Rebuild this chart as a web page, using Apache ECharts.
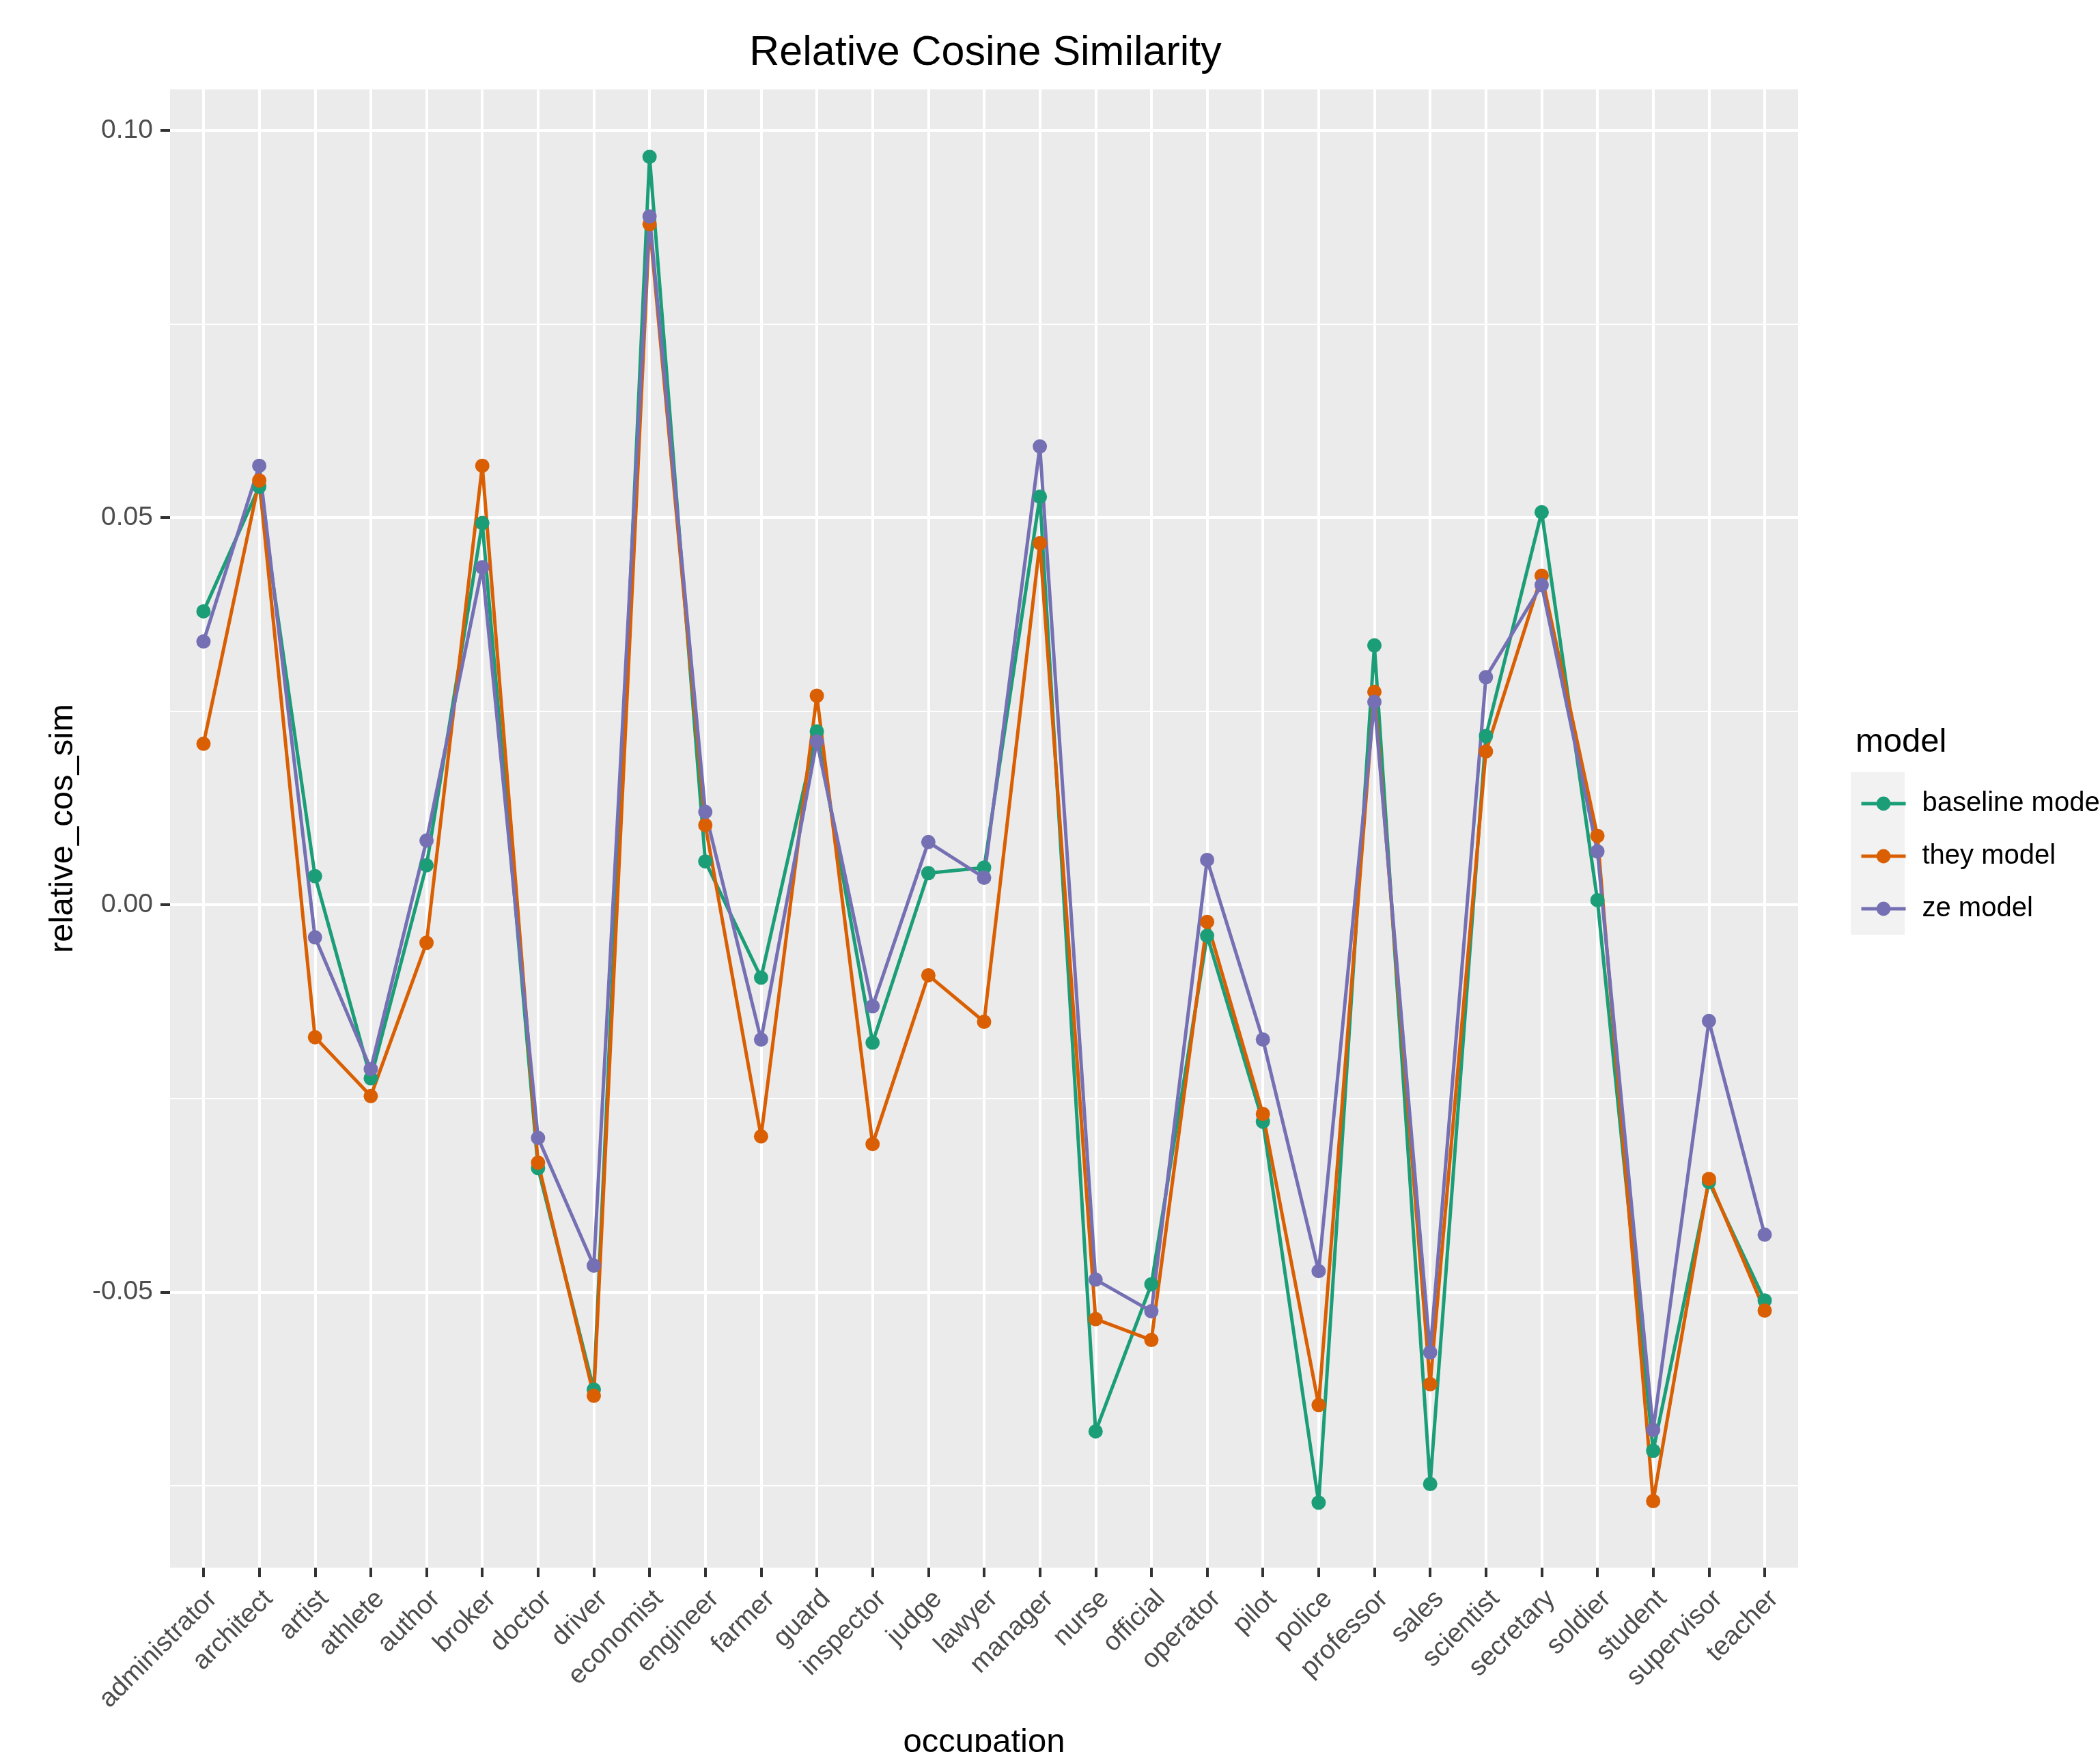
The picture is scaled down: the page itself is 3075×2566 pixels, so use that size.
<!DOCTYPE html>
<html>
<head>
<meta charset="utf-8">
<script src="https://cdn.jsdelivr.net/npm/echarts@6/dist/echarts.min.js"></script>
<style>
html,body{margin:0;padding:0;background:#fff;}
#chart{width:3075px;height:2566px;}
</style>
</head>
<body>
<div id="chart"></div>
<script>
const categories = ['administrator','architect','artist','athlete','author','broker','doctor','driver','economist','engineer','farmer','guard','inspector','judge','lawyer','manager','nurse','official','operator','pilot','police','professor','sales','scientist','secretary','soldier','student','supervisor','teacher'];

const baselineModel = [0.0379,0.0540,0.0037,-0.0224,0.0051,0.0493,-0.0340,-0.0626,0.0966,0.0056,-0.0094,0.0224,-0.0178,0.0041,0.0048,0.0527,-0.0680,-0.0490,-0.0040,-0.0280,-0.0772,0.0335,-0.0748,0.0218,0.0507,0.0006,-0.0705,-0.0358,-0.0511];
const theyModel = [0.0208,0.0548,-0.0171,-0.0247,-0.0049,0.0567,-0.0333,-0.0634,0.0879,0.0103,-0.0299,0.0270,-0.0309,-0.0091,-0.0151,0.0467,-0.0535,-0.0562,-0.0022,-0.0270,-0.0646,0.0275,-0.0619,0.0198,0.0425,0.0089,-0.0770,-0.0354,-0.0524];
const zeModel = [0.0340,0.0567,-0.0042,-0.0212,0.0083,0.0436,-0.0301,-0.0466,0.0889,0.0120,-0.0174,0.0211,-0.0131,0.0081,0.0035,0.0592,-0.0484,-0.0525,0.0058,-0.0174,-0.0473,0.0262,-0.0578,0.0294,0.0413,0.0069,-0.0678,-0.0150,-0.0426];

const seriesNames = ['baseline model','they model','ze model'];
const yMajorTicks = [-0.05, 0, 0.05, 0.10];
const yMinorTicks = [-0.075, -0.025, 0.025, 0.075];
const yMin = -0.0856, yMax = 0.1053;

const colors = ['#1B9E77','#D95F02','#7570B3'];
const xIdx = categories.map((c, i) => i);
const toPairs = arr => arr.map((v, i) => [i, v]);

const chart = echarts.init(document.getElementById('chart'), null, {renderer:'canvas'});
const FONT = 'Liberation Sans, Arial, sans-serif';

const mkSeries = (name, data, color) => ({
  name, type:'line', xAxisIndex:0, yAxisIndex:0,
  data: toPairs(data),
  symbol:'circle', symbolSize:21,
  lineStyle:{width:5, color},
  itemStyle:{color},
  animation:false
});

chart.setOption({
  backgroundColor:'#ffffff',
  animation:false,
  color: colors,
  title:[{
    text:'Relative Cosine Similarity',
    left:1438, top:43, textAlign:'center',
    textStyle:{fontFamily:FONT, fontSize:61, fontWeight:'normal', color:'#000'}
  },{
    text:'model',
    left:2712, top:1058,
    textStyle:{fontFamily:FONT, fontSize:49, fontWeight:'normal', color:'#000'}
  }],
  graphic:[{
    type:'rect', left:2710, top:1131, shape:{width:79, height:238},
    style:{fill:'#F2F2F2'}, z:-1, silent:true
  }],
  legend:{
    orient:'vertical', left:2718, top:1152,
    itemWidth:65, itemHeight:26, itemGap:37,
    data: seriesNames,
    lineStyle:{width:5},
    textStyle:{fontFamily:FONT, fontSize:40, color:'#000', padding:[0,0,0,19]}
  },
  grid:{left:249, right:442, top:131, bottom:270, containLabel:false,
        outerBoundsMode:'none',
        show:true, backgroundColor:'#EBEBEB', borderWidth:0},
  xAxis:[{
    type:'value', min:-0.6, max:28.6,
    name:'occupation', nameLocation:'middle', nameGap:232,
    nameTextStyle:{fontFamily:FONT, fontSize:49, color:'#000'},
    axisLine:{show:false, onZero:false},
    axisTick:{show:true, length:14, lineStyle:{color:'#333333', width:4}, customValues:xIdx},
    axisLabel:{show:true, customValues:xIdx, rotate:45, margin:26,
      align:'right', verticalAlign:'top',
      fontFamily:FONT, fontSize:39, color:'#4D4D4D',
      formatter: v => categories[Math.round(v)]},
    splitLine:{show:true, lineStyle:{color:'#FFFFFF', width:4}},
    minorSplitLine:{show:false}
  }],
  yAxis:[{
    type:'value', min:yMin, max:yMax,
    name:'relative_cos_sim', nameLocation:'middle', nameGap:132, nameRotate:90,
    nameTextStyle:{fontFamily:FONT, fontSize:49, color:'#000'},
    axisLine:{show:false, onZero:false},
    axisTick:{show:true, length:14, lineStyle:{color:'#333333', width:4}, customValues:yMajorTicks},
    axisLabel:{show:true, customValues:yMajorTicks, margin:25,
      fontFamily:FONT, fontSize:39, color:'#4D4D4D',
      formatter: v => v.toFixed(2)},
    splitLine:{show:true, lineStyle:{color:'#FFFFFF', width:4}}
  },{
    type:'value', min:yMin, max:yMax, position:'left',
    axisLine:{show:false, onZero:false},
    axisTick:{show:false, customValues:yMinorTicks},
    axisLabel:{show:false, customValues:yMinorTicks},
    splitLine:{show:true, lineStyle:{color:'#FFFFFF', width:2}}
  }],
  series:[
    mkSeries(seriesNames[0], baselineModel, colors[0]),
    mkSeries(seriesNames[1], theyModel, colors[1]),
    mkSeries(seriesNames[2], zeModel, colors[2])
  ]
});
</script>
</body>
</html>
